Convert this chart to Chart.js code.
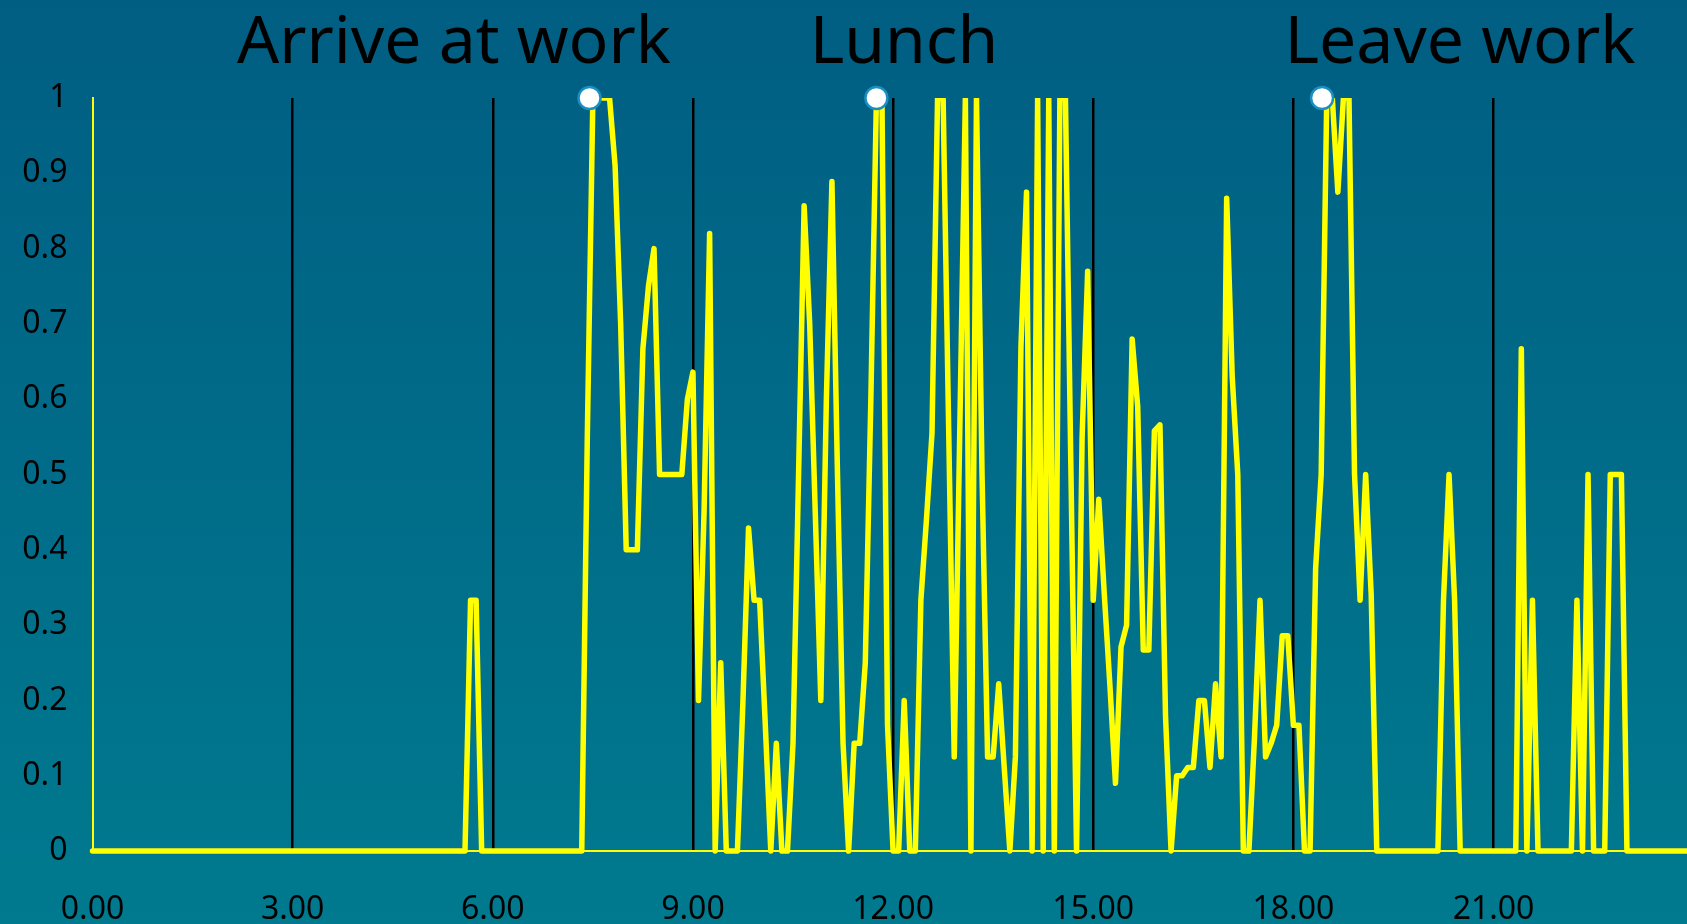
<!DOCTYPE html>
<html>
<head>
<meta charset="utf-8">
<script src="https://cdn.jsdelivr.net/npm/chart.js@4.4.1/dist/chart.umd.min.js"></script>
<style>
  html, body { margin: 0; padding: 0; overflow: hidden; }
  #wrap {
    width: 1687px; height: 924px; position: relative;
    background: linear-gradient(to bottom, #005e83 0%, #007a8f 100%);
  }
</style>
</head>
<body>
<div id="wrap"><canvas id="c"></canvas></div>
<script>
// ---- data (one value every 5 minutes, 00:00 .. 23:55) ----
const minutesPerSample = 5;
const occupancy = [
  0,0,0,0,0,0,0,0,0,0,0,0,                                   // 0h
  0,0,0,0,0,0,0,0,0,0,0,0,                                   // 1h
  0,0,0,0,0,0,0,0,0,0,0,0,                                   // 2h
  0,0,0,0,0,0,0,0,0,0,0,0,                                   // 3h
  0,0,0,0,0,0,0,0,0,0,0,0,                                   // 4h
  0,0,0,0,0,0,0,0,0.333,0.333,0,0,                           // 5h
  0,0,0,0,0,0,0,0,0,0,0,0,                                   // 6h
  0,0,0,0,0,0.55,1,1,1,1,0.91,0.7,                           // 7h
  0.4,0.4,0.4,0.667,0.75,0.8,0.5,0.5,0.5,0.5,0.5,0.6,        // 8h
  0.636,0.2,0.45,0.82,0,0.25,0,0,0,0.2,0.429,0.333,          // 9h
  0.333,0.17,0,0.143,0,0,0.143,0.5,0.857,0.7,0.45,0.2,       // 10h
  0.6,0.889,0.5,0.143,0,0.143,0.143,0.25,0.6,1,1,0.167,      // 11h
  0,0,0.2,0,0,0.333,0.44,0.555,1,1,0.56,0.125,               // 12h
  0.56,1,0,1,0.5,0.125,0.125,0.222,0.11,0,0.125,0.67,        // 13h
  0.875,0,1,0,1,0,1,1,0.5,0,0.55,0.77,                       // 14h
  0.333,0.467,0.34,0.22,0.09,0.271,0.3,0.68,0.59,0.267,0.267,0.558, // 15h
  0.566,0.18,0,0.1,0.1,0.111,0.111,0.2,0.2,0.111,0.222,0.125,// 16h
  0.867,0.63,0.5,0,0,0.15,0.333,0.125,0.143,0.167,0.286,0.286, // 17h
  0.167,0.167,0,0,0.375,0.5,1,1,0.875,1,1,0.5,               // 18h
  0.333,0.5,0.34,0,0,0,0,0,0,0,0,0,                          // 19h
  0,0,0,0.333,0.5,0.333,0,0,0,0,0,0,                         // 20h
  0,0,0,0,0,0.667,0,0.333,0,0,0,0,                           // 21h
  0,0,0,0.333,0,0.5,0,0,0,0.5,0.5,0.5,                       // 22h
  0,0,0,0,0,0,0,0,0,0,0,0                                    // 23h
];
const sampleHours = occupancy.map((_, i) => i * minutesPerSample / 60);

const eventLabels = ['Arrive at work', 'Lunch', 'Leave work'];
const eventHours  = [7.45, 11.75, 18.43];
const eventValues = [1, 1, 1];

const xTickValues = [0, 3, 6, 9, 12, 15, 18, 21];
const yTickValues = [0, 0.1, 0.2, 0.3, 0.4, 0.5, 0.6, 0.7, 0.8, 0.9, 1];

// ---- layout constants (not data) ----
const labelCenterX = [454, 904, 1460];
const labelBaseline = 63;

const lineData = occupancy.map((v, i) => ({ x: sampleHours[i], y: v }));
const markerData = eventValues.map((v, i) => ({ x: eventHours[i], y: v }));

const eventLabelPlugin = {
  id: 'eventLabels',
  afterDraw(chart) {
    const ctx = chart.ctx;
    ctx.save();
    ctx.font = '66px "Noto Sans"';
    ctx.fillStyle = '#000000';
    ctx.textAlign = 'center';
    ctx.textBaseline = 'alphabetic';
    eventLabels.forEach((t, k) => ctx.fillText(t, labelCenterX[k], labelBaseline));
    ctx.restore();
  }
};

const tickFont = { family: '"Noto Sans"', size: 32 };

new Chart(document.getElementById('c'), {
  type: 'line',
  data: {
    datasets: [
      {
        label: 'Events',
        data: markerData,
        showLine: false,
        pointRadius: 11,
        pointBorderWidth: 2.5,
        pointBackgroundColor: '#ffffff',
        pointBorderColor: '#1a8fc0',
        clip: false,
        order: 0
      },
      {
        label: 'Occupancy',
        data: lineData,
        borderColor: '#ffff00',
        borderWidth: 5.5,
        borderJoinStyle: 'round',
        borderCapStyle: 'round',
        pointRadius: 0,
        tension: 0,
        fill: false,
        clip: { left: false, top: 0, right: 0, bottom: false },
        order: 1
      }
    ]
  },
  plugins: [eventLabelPlugin],
  options: {
    responsive: true,
    maintainAspectRatio: false,
    animation: false,
    events: [],
    layout: { autoPadding: false, padding: { top: 98, left: 0, right: 0, bottom: 0 } },
    plugins: { legend: { display: false }, tooltip: { enabled: false }, title: { display: false } },
    scales: {
      x: {
        type: 'linear',
        min: 0,
        max: 23.9,
        afterBuildTicks: s => { s.ticks = xTickValues.map(v => ({ value: v })); },
        afterFit: s => { s.height = 73; s.paddingLeft = 0; s.paddingRight = 0; },
        ticks: {
          color: '#000000',
          font: tickFont,
          padding: 40,
          maxRotation: 0,
          autoSkip: false,
          callback: v => Number(v).toFixed(2)
        },
        grid: {
          drawTicks: false,
          lineWidth: 2.5,
          color: c => (c.tick && c.tick.value === 0) ? 'rgba(0,0,0,0)' : '#000000'
        },
        border: { display: true, color: '#ffff00', width: 2 }
      },
      y: {
        min: 0,
        max: 1,
        afterBuildTicks: s => { s.ticks = yTickValues.map(v => ({ value: v })); },
        afterFit: s => { s.width = 92.5; s.paddingTop = 0; s.paddingBottom = 0; },
        ticks: {
          color: '#000000',
          font: tickFont,
          padding: 25,
          callback: v => String(Number(Number(v).toFixed(1)))
        },
        grid: { display: false, drawTicks: false },
        border: { display: true, color: '#ffff00', width: 2 }
      }
    }
  }
});
</script>
</body>
</html>
